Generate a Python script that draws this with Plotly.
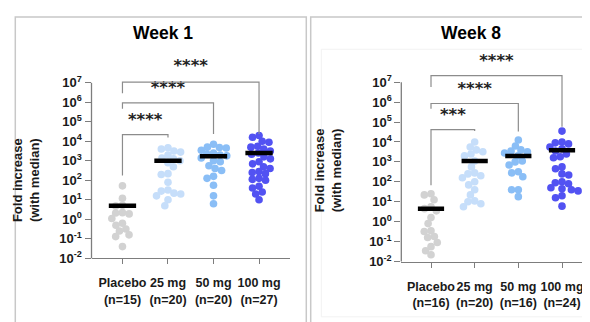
import numpy as np
import plotly.graph_objects as go

# ---------------- data ----------------
categories = ["Placebo", "25 mg", "50 mg", "100 mg"]
n_week1 = [15, 20, 20, 27]
n_week8 = [16, 20, 16, 24]

w1_placebo = [52, 12, 5.2, 4.8, 2.2, 2.1, 1.9, 1.1, 0.63, 0.5, 0.32, 0.25, 0.16, 0.13, 0.04]
w1_25mg = [4700, 4000, 3200, 2800, 2000, 1400, 1260, 1000, 800, 500, 220, 200, 80, 32, 28, 22, 20, 16, 10, 5]
w1_50mg = [7000, 5000, 4800, 4500, 3500, 2500, 2200, 2000, 1800, 1400, 1000, 900, 560, 400, 320, 160, 126, 56, 16, 6.3]
w1_100mg = [20000, 16000, 10000, 9000, 5600, 5000, 4000, 3200, 2500, 2200, 1600, 1260, 900, 700, 500, 400,
            280, 250, 220, 126, 112, 100, 50, 40, 25, 20, 10]
w1_medians = [5.0, 1000, 1700, 2500]

w8_placebo = [25, 22, 12.6, 5.6, 4.5, 3.5, 1.6, 0.8, 0.35, 0.32, 0.18, 0.16, 0.09, 0.056, 0.035, 0.022]
w8_25mg = [10000, 5600, 4000, 3200, 2500, 2000, 1100, 560, 280, 250, 200, 160, 100, 70, 40, 22, 11, 10, 8, 5.6]
w8_50mg = [12600, 6300, 4000, 3500, 3200, 2800, 2000, 1100, 1000, 700, 320, 280, 180, 40, 40, 18]
w8_100mg = [35000, 10000, 9000, 8000, 5600, 4500, 3500, 2500, 1800, 1600, 560, 450, 250, 220, 100, 90, 80,
            50, 45, 40, 35, 20, 16, 6]
w8_medians = [4.4, 1100, 2000, 3800]

w1_sig = ["****", "****", "****"]
w8_sig = ["***", "****", "****"]

y_exponents = [-2, -1, 0, 1, 2, 3, 4, 5, 6, 7]

# ---------------- layout constants ----------------
W, H = 590, 322
YMIN, YMAX = -2, 8.4
XMIN, XMAX = -0.68, 3.68
colors = ["rgb(210,210,210)", "rgb(198,222,250)", "rgb(138,190,246)", "rgb(82,82,242)"]
AX = "rgb(125,125,125)"
BR = "rgb(140,140,140)"
FONT = "Liberation Sans, Arial, sans-serif"

panels = [
    dict(groups=[w1_placebo, w1_25mg, w1_50mg, w1_100mg], med=w1_medians, n=n_week1, sig=w1_sig,
         title="Week 1", xpx=(83.5, 282.0), ybot=256.7, ppd=20.0,
         br_top=[4.34, 5.97, 7.03], br_left=[2.25, 5.67, 6.47], br_right=[4.2, 4.37, 4.37],
         star_y=[5.07, 6.68, 7.82], title_x=155, ytitle_x=17.5, ytitle_y=177),
    dict(groups=[w8_placebo, w8_25mg, w8_50mg, w8_100mg], med=w8_medians, n=n_week8, sig=w8_sig,
         title="Week 8", xpx=(393.3, 583.7), ybot=260.0, ppd=20.44,
         br_top=[4.62, 5.93, 7.33], br_left=[1.83, 5.66, 6.76], br_right=[4.55, 4.52, 4.76],
         star_y=[5.3, 6.62, 8.04], title_x=463.3, ytitle_x=319.5, ytitle_y=167),
]


def swarm(vals, ppd, ppc, d=6.8):
    y = np.log10(np.asarray(vals, dtype=float)) * ppd
    order = np.argsort(-y, kind="stable")
    placed = []
    xs = np.zeros(len(y))
    for i in order:
        cands = [0.0]
        for px, py in placed:
            dy = y[i] - py
            if abs(dy) < d:
                dx = np.sqrt(d * d - dy * dy)
                cands += [px - dx, px + dx]
        cands.sort(key=lambda c: (round(abs(c), 6), c))
        for c in cands:
            if all((c - px) ** 2 + (y[i] - py) ** 2 >= d * d - 1e-6 for px, py in placed):
                xs[i] = c
                break
        placed.append((xs[i], y[i]))
    return xs / ppc


fig = go.Figure()
shapes = []
annotations = []

for k, p in enumerate(panels):
    sfx = "" if k == 0 else str(k + 1)
    xname, yname = "x" + sfx, "y" + sfx
    x0f, x1f = p["xpx"][0] / W, p["xpx"][1] / W
    ytop_px = p["ybot"] - (YMAX - YMIN) * p["ppd"]
    y0f, y1f = (H - p["ybot"]) / H, (H - ytop_px) / H
    ppc = (p["xpx"][1] - p["xpx"][0]) / (XMAX - XMIN)

    # points
    for i, g in enumerate(p["groups"]):
        off = swarm(g, p["ppd"], ppc)
        fig.add_trace(go.Scatter(
            x=i + off, y=g, mode="markers", xaxis=xname, yaxis=yname,
            marker=dict(size=7.6, color=colors[i], line=dict(width=0)),
            showlegend=False, hoverinfo="y"))
    # medians
    for i, m in enumerate(p["med"]):
        fig.add_trace(go.Scatter(
            x=[i - 0.3, i + 0.3], y=[m, m], mode="lines", xaxis=xname, yaxis=yname,
            line=dict(color="black", width=4.5), showlegend=False, hoverinfo="skip"))
    # significance brackets
    for j in range(3):
        tgt = j + 1
        fig.add_trace(go.Scatter(
            x=[0, 0, tgt, tgt],
            y=[10 ** p["br_left"][j], 10 ** p["br_top"][j], 10 ** p["br_top"][j], 10 ** p["br_right"][j]],
            mode="lines", xaxis=xname, yaxis=yname,
            line=dict(color=BR, width=1.2), showlegend=False, hoverinfo="skip"))
        fig.add_trace(go.Scatter(
            x=[tgt / 2], y=[10 ** p["star_y"][j]], mode="text", text=[p["sig"][j]],
            textposition="middle center", xaxis=xname, yaxis=yname, cliponaxis=False,
            textfont=dict(family="DejaVu Sans", size=16.5, color="#222", weight="bold"),
            showlegend=False, hoverinfo="skip"))

    fig.update_layout(**{
        ("xaxis" + sfx): dict(
            domain=[x0f, x1f], range=[XMIN, XMAX], anchor=yname,
            tickvals=list(range(4)),
            ticktext=[f"{c}<br>(n={n})" for c, n in zip(categories, p["n"])],
            tickangle=0,
            ticks="outside", ticklen=5, tickcolor=AX, tickwidth=1.2,
            showline=True, linecolor=AX, linewidth=1.3, showgrid=False, zeroline=False,
            ticklabelstandoff=8,
            tickfont=dict(family=FONT, size=12.5, color="#1a1a1a", weight="bold")),
        ("yaxis" + sfx): dict(
            domain=[y0f, y1f], type="log", range=[YMIN, YMAX], anchor=xname,
            tickvals=[10.0 ** e for e in y_exponents],
            ticktext=[f"10<sup>{e}</sup>" for e in y_exponents],
            ticks="outside", ticklen=6, tickcolor=AX, tickwidth=1.2,
            showline=False, showgrid=False, zeroline=False,
            tickfont=dict(family=FONT, size=13, color="#1a1a1a", weight="bold")),
    })
    # y axis line only from 1e-2 to 1e7
    yl1 = y0f + (y_exponents[-1] - YMIN) / (YMAX - YMIN) * (y1f - y0f)
    shapes.append(dict(type="line", xref="paper", yref="paper", x0=x0f, x1=x0f, y0=y0f, y1=yl1,
                       line=dict(color=AX, width=1.3)))
    annotations.append(dict(text=p["title"], xref="paper", yref="paper", x=p["title_x"] / W,
                            y=1 - 26 / H, showarrow=False, xanchor="center", yanchor="middle",
                            font=dict(family=FONT, size=17.5, color="black", weight="bold")))
    annotations.append(dict(text="Fold increase<br>(with median)", xref="paper", yref="paper",
                            x=p["ytitle_x"] / W, y=1 - p["ytitle_y"] / H, textangle=-90,
                            showarrow=False, xanchor="center", yanchor="middle",
                            font=dict(family=FONT, size=13, color="#1a1a1a", weight="bold")))

# panel frames
shapes.append(dict(type="rect", xref="paper", yref="paper", x0=7.3 / W, x1=298.3 / W,
                   y0=-0.05, y1=1 - 9.3 / H, line=dict(color="rgb(200,200,200)", width=1.5), layer="below"))
shapes.append(dict(type="rect", xref="paper", yref="paper", x0=302.7 / W, x1=1.05,
                   y0=-0.05, y1=1 - 9.3 / H, line=dict(color="rgb(200,200,200)", width=1.5), layer="below"))
shapes.append(dict(type="rect", xref="paper", yref="paper", x0=313.3 / W, x1=1.05,
                   y0=1 - 316.7 / H, y1=1 - 42.3 / H, line=dict(color="rgb(242,242,242)", width=1), layer="below"))

fig.update_layout(width=W, height=H, margin=dict(l=0, r=0, t=0, b=0),
                  paper_bgcolor="white", plot_bgcolor="white",
                  shapes=shapes, annotations=annotations, showlegend=False)

fig.write_html("out.html", config={"displayModeBar": False})
